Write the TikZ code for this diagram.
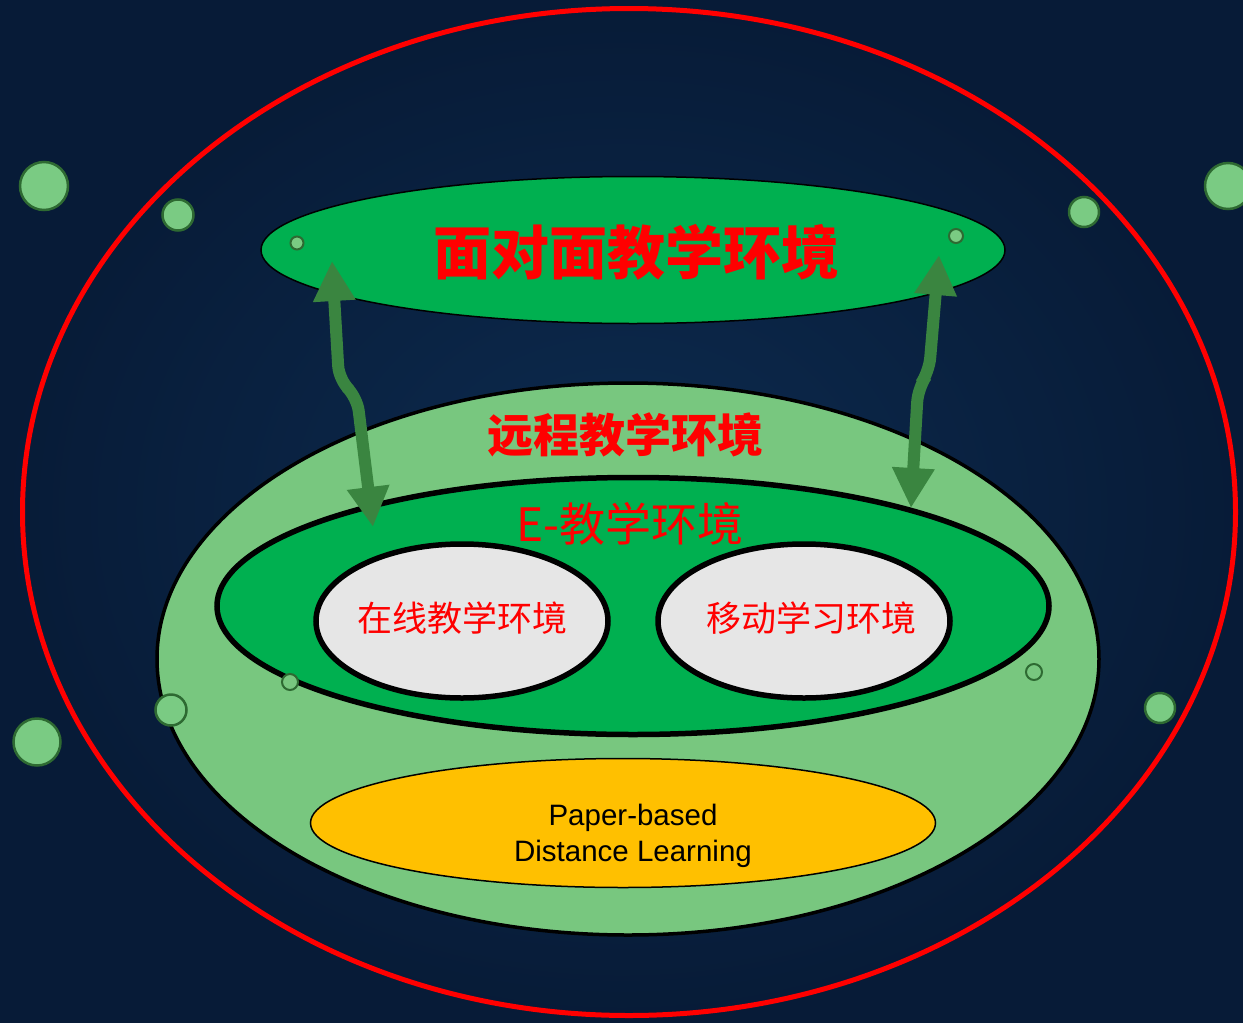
\documentclass[tikz,border=0pt]{standalone}
\usepackage{fontspec}
\setmainfont{Liberation Sans}
\newfontfamily\cjk{Noto Sans CJK SC}
\usetikzlibrary{shapes.geometric,arrows.meta}
\definecolor{bginner}{HTML}{0D2B4F}
\definecolor{bgouter}{HTML}{071B37}
\definecolor{lightgreen}{HTML}{78C77F}
\definecolor{midgreen}{HTML}{00B050}
\definecolor{paleGray}{HTML}{E6E6E6}
\definecolor{gold}{HTML}{FFC000}
\definecolor{arrowgreen}{HTML}{3A8540}
\definecolor{bubfill}{HTML}{7ACB83}
\definecolor{bubline}{HTML}{2E6A32}
\begin{document}
\begin{tikzpicture}[x=1pt,y=-1pt,
  ell/.style={ellipse, inner sep=0pt, outer sep=0pt},
  bub/.style={circle, fill=bubfill, draw=bubline, line width=2.5pt, inner sep=0pt, minimum size=#1},
  smallbub/.style={circle, fill=bubfill, draw=bubline, line width=2pt, inner sep=0pt, minimum size=#1},
  redtxt/.style={text=red, inner sep=0pt, font=\cjk},
  linkarrow/.style={draw=arrowgreen, line width=12pt, rounded corners=14pt,
     {Triangle[length=40pt,width=40pt]}-{Triangle[length=40pt,width=40pt]}}]
\useasboundingbox (0,0) rectangle (1243,1023);
\shade[inner color=bginner, outer color=bgouter] (0,0) rectangle (1243,1023);

% outer red ellipse
\node[ell, draw=red, line width=5pt, minimum width=1213pt, minimum height=1007pt] (outer) at (629,512) {};

% face to face
\node[ell, draw=black, line width=1.5pt, fill=midgreen, minimum width=744pt, minimum height=147pt] (ftf) at (633,250) {};
\node[redtxt, font=\cjk\bfseries\fontsize{58}{64}\selectfont] (ftfT) at (636,252) {面对面教学环境};

% distance
\node[ell, draw=black, line width=3.5pt, fill=lightgreen, minimum width=942pt, minimum height=552pt] (dist) at (628,659) {};
\node[redtxt, font=\cjk\bfseries\fontsize{46}{52}\selectfont] (distT) at (625,435) {远程教学环境};

% E
\node[ell, draw=black, line width=5.5pt, fill=midgreen, minimum width=832pt, minimum height=257pt] (eenv) at (633,606) {};
\node[redtxt, font=\cjk\fontsize{46}{52}\selectfont] (eenvT) at (630,524) {E-教学环境};

% online / mobile
\node[ell, draw=black, line width=5.5pt, fill=paleGray, minimum width=292pt, minimum height=154pt] (online) at (462,621) {};
\node[redtxt, font=\cjk\fontsize{35}{40}\selectfont] (onlineT) at (462,618) {在线教学环境};
\node[ell, draw=black, line width=5.5pt, fill=paleGray, minimum width=292pt, minimum height=154pt] (mobile) at (804,621) {};
\node[redtxt, font=\cjk\fontsize{35}{40}\selectfont] (mobileT) at (811,618) {移动学习环境};

% paper based
\node[ell, draw=black, line width=1.5pt, fill=gold, minimum width=625pt, minimum height=129pt] (paper) at (623,823) {};
\node[align=center, inner sep=0pt, font=\fontsize{29.5}{36}\selectfont, text=black] (paperT) at (633,836) {Paper-based\\Distance Learning};

% arrows
\coordinate (lt) at (332,261);
\coordinate (lb) at (373,527);
\coordinate (rt) at (939,255);
\coordinate (rb) at (911,508);
\draw[linkarrow] (lt) -- (339,380) -- (357,397) -- (lb);
\draw[linkarrow] (rt) -- (929,372) -- (918,388) -- (rb);

% bubbles
\node[bub=48pt] (b1) at (44,186) {};
\node[bub=31pt] (b2) at (178,215) {};
\node[bub=30pt] (b3) at (1084,212) {};
\node[bub=46pt] (b4) at (1228,186) {};
\node[bub=47pt] (b5) at (37,742) {};
\node[bub=31pt] (b6) at (171,710) {};
\node[bub=30pt] (b7) at (1160,708) {};
\node[smallbub=13pt] (s1) at (297,243) {};
\node[smallbub=14pt] (s2) at (956,236) {};
\node[smallbub=16pt, fill=lightgreen] (s3) at (290,682) {};
\node[smallbub=16pt, fill=lightgreen] (s4) at (1034,672) {};
\end{tikzpicture}
\end{document}
